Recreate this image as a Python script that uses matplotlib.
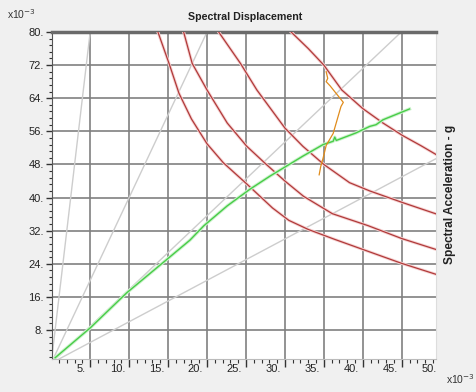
import numpy as np
import matplotlib
matplotlib.use('Agg')
from matplotlib import pyplot as plt
from matplotlib import transforms

plt.rcParams['font.family'] = ['Liberation Sans', 'DejaVu Sans']

# slopes of the constant period lines (Sa / Sd)
period_slopes = [16.0, 4.0, 1.78, 1.0]

# capacity curve (x10^-3)
cap_sd = [0.5, 5.0, 9.7, 14.3, 17.8, 19.6, 22.6, 25.5, 28.1, 32.3, 34.9, 36.2, 36.4, 36.6, 39.1, 40.9, 41.7, 42.6, 46.0]
cap_sa = [1.3, 8.5, 17.0, 24.2, 29.7, 33.2, 38.0, 42.0, 45.2, 50.0, 52.8, 53.6, 54.6, 53.8, 55.6, 57.2, 57.6, 58.8, 61.4]

# demand spectra, one per damping level
dem_a_sd = [13.7, 15.2, 16.4, 18.0, 20.0, 22.1, 25.1, 28.4, 30.5, 33.0, 36.4, 40.7, 45.0, 49.5]
dem_a_sa = [80.0, 72.0, 65.2, 59.0, 53.0, 48.4, 43.3, 37.5, 34.5, 32.3, 29.9, 27.0, 24.1, 21.4]
dem_b_sd = [17.0, 18.1, 20.0, 22.6, 25.1, 27.5, 30.0, 32.4, 36.1, 40.7, 45.0, 49.5]
dem_b_sa = [80.0, 72.4, 66.0, 58.0, 52.4, 48.2, 44.0, 40.3, 36.1, 33.2, 30.1, 27.4]
dem_c_sd = [21.5, 24.3, 26.4, 30.0, 32.3, 35.0, 38.3, 40.9, 45.1, 49.5]
dem_c_sa = [80.0, 72.4, 66.0, 56.8, 52.4, 48.0, 43.6, 41.6, 38.8, 36.0]
dem_d_sd = [30.8, 33.0, 35.0, 37.3, 40.0, 42.6, 45.1, 47.5, 49.5]
dem_d_sa = [80.0, 76.0, 72.0, 66.0, 61.5, 58.0, 55.0, 52.5, 50.3]

# performance point iterations
pp_sd = [35.3, 35.5, 35.3, 35.8, 37.5, 37.2, 36.2, 35.3, 34.9, 34.6, 34.4]
pp_sa = [70.4, 68.8, 68.0, 67.0, 63.0, 62.0, 55.5, 52.6, 49.5, 47.5, 45.5]

x_ticks = [5, 10, 15, 20, 25, 30, 35, 40, 45]
y_ticks = [8, 16, 24, 32, 40, 48, 56, 64, 72, 80]

fig = plt.figure(figsize=(4.76, 3.92), dpi=100, facecolor='#f0f0f0')
ax = fig.add_axes([52 / 476, 33 / 392, 384 / 476, 327 / 392])
ax.set_facecolor('white')

for v in x_ticks:
    ax.axvline(v, color='#808080', lw=1.2, zorder=1)
for v in y_ticks[:-1]:
    ax.axhline(v, color='#808080', lw=1.2, zorder=1)

for s in period_slopes:
    ax.axline((0, 0), slope=s, color='#cdcdcd', lw=1.0, zorder=2)

for sd, sa in [(dem_a_sd, dem_a_sa), (dem_b_sd, dem_b_sa), (dem_c_sd, dem_c_sa), (dem_d_sd, dem_d_sa)]:
    ax.plot(sd, sa, color='#f6d2d2', lw=2.2, zorder=3)
    ax.plot(sd, sa, color='#b03a3a', lw=0.9, zorder=4)

ax.plot(cap_sd, cap_sa, color='#cdf2cd', lw=2.4, zorder=5)
ax.plot(cap_sd, cap_sa, color='#48cc48', lw=1.0, zorder=6)
ax.plot(pp_sd, pp_sa, color='#e08c1c', lw=0.9, zorder=7)

ax.set_xlim(0.1, 49.4)
ax.set_ylim(1, 80)

ax.set_xticks(x_ticks)
ax.set_xticklabels([f'{v}.' for v in x_ticks])
ax.set_xticks(np.arange(1, 50, 1), minor=True)
ax.set_yticks(y_ticks)
ax.set_yticklabels([f'{v}.' for v in y_ticks])
ax.set_yticks(np.arange(1.6, 80, 1.6), minor=True)

ax.tick_params(axis='x', which='major', direction='out', length=6, width=1, color='#333333',
               labelsize=8, pad=-2.5, labelcolor='#222222')
ax.tick_params(axis='x', which='minor', direction='out', length=3, width=0.8, color='#333333')
ax.tick_params(axis='y', which='major', direction='out', length=4, width=1, color='#333333',
               labelsize=8, pad=2, labelcolor='#222222')
ax.tick_params(axis='y', which='minor', direction='out', length=2.5, width=0.8, color='#333333')

offset = transforms.ScaledTranslation(-4 / 100, 0, fig.dpi_scale_trans)
for lab in ax.get_xticklabels():
    lab.set_horizontalalignment('right')
    lab.set_transform(lab.get_transform() + offset)
# last label sits past the right edge
ax.text(50, 0, '50.',
        transform=transforms.blended_transform_factory(ax.transData, ax.transAxes)
        + transforms.ScaledTranslation(-4 / 100, -4.9 / 100, fig.dpi_scale_trans),
        ha='right', va='top', fontsize=8, color='#222222', clip_on=False)

ax.spines['top'].set_color('#6a6a6a')
ax.spines['top'].set_linewidth(2.5)
ax.spines['left'].set_color('#555555')
ax.spines['left'].set_linewidth(0.8)
ax.spines['bottom'].set_color('#bbbbbb')
ax.spines['bottom'].set_linewidth(0.8)
ax.spines['right'].set_color('#dddddd')
ax.spines['right'].set_linewidth(0.8)

fig.text(245 / 476, 1 - 17 / 392, 'Spectral Displacement', ha='center', va='center',
         fontsize=7.7, fontweight='bold', color='#222222')
fig.text(450 / 476, 1 - 194 / 392, 'Spectral Acceleration - g', ha='center', va='center',
         rotation=90, fontsize=8.6, fontweight='bold', color='#222222')
fig.text(7 / 476, 1 - 21 / 392, r'x10$^{-3}$', ha='left', va='bottom', fontsize=7.5, color='#333333')
fig.text(446 / 476, 1 - 386 / 392, r'x10$^{-3}$', ha='left', va='bottom', fontsize=7.5, color='#333333')

fig.savefig('out.png', dpi=100, facecolor=fig.get_facecolor())
